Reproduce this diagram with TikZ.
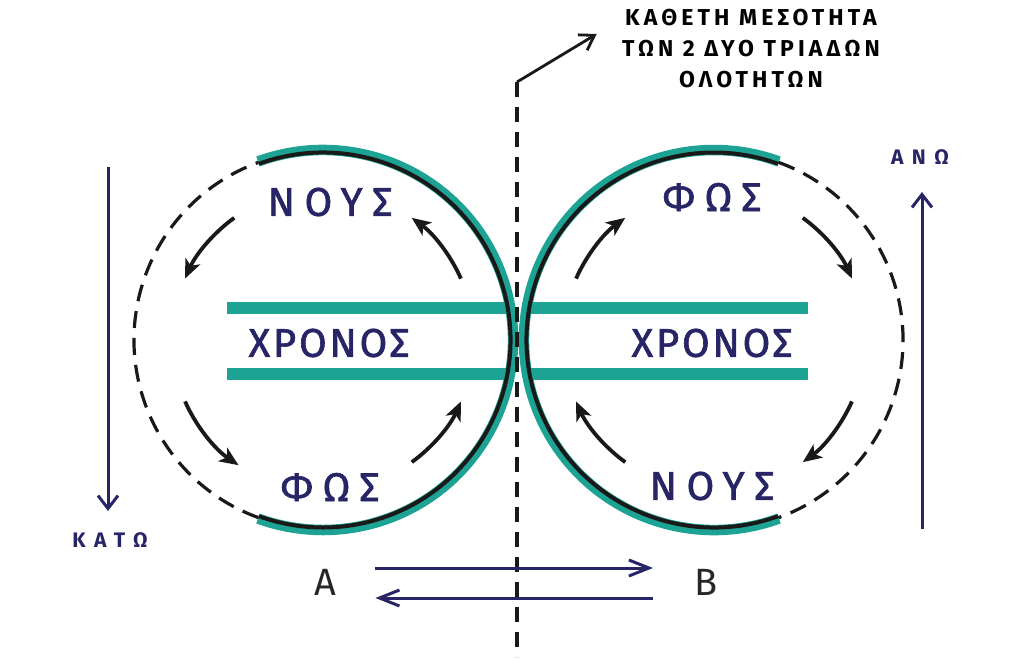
\documentclass[tikz,border=0pt]{standalone}
\usepackage{fontspec}
\setmainfont{Fira Sans}
\newfontfamily\grkwide[LetterSpace=24, FakeBold=1.6]{Fira Sans}
\newfontfamily\grktight[LetterSpace=7, FakeBold=1.6]{Fira Sans}
\newfontfamily\grktop[LetterSpace=18]{Fira Sans}
\newfontfamily\grktag[LetterSpace=40]{Fira Sans}
\usetikzlibrary{arrows.meta, positioning}
\definecolor{ringteal}{RGB}{29,163,148}
\definecolor{inkblue}{RGB}{40,37,102}

\begin{document}
\begin{tikzpicture}[x=1pt, y=-1pt, >={Stealth[]},
  ring/.style={ringteal, line width=10.5pt},
  core/.style={black!90, line width=4pt},
  band/.style={ringteal, line width=12.5pt},
  gap/.style={black!90, line width=3.2pt, dash pattern=on 17pt off 10pt},
  turn/.style={black!90, line width=3.8pt, -{Stealth[length=19pt, width=16pt, inset=5pt]}},
  way/.style={inkblue, line width=3pt, -{Straight Barb[length=13pt, width=20pt]}},
  pointer/.style={black!90, line width=2.8pt, -{Straight Barb[length=14pt, width=18pt]}},
  word/.style={inkblue, font=\grkwide\fontsize{40}{40}\selectfont},
  longword/.style={inkblue, font=\grktight\fontsize{40}{40}\selectfont},
  tag/.style={inkblue, font=\grktag\bfseries\fontsize{21}{21}\selectfont},
  letter/.style={black!85, font=\fontsize{38}{38}\selectfont}]
  \useasboundingbox (0,0) rectangle (1025,665);
  % centres of the two wholes
  \coordinate (left) at (323,340);
  \coordinate (right) at (714,340);
  % time bands
  \draw[band] (227,308) -- (510,308);
  \draw[band] (227,374) -- (510,374);
  \draw[band] (524,308) -- (808,308);
  \draw[band] (524,374) -- (808,374);
  % the two rings
  \draw[ring] (left) ++(-110:190) arc[start angle=-110, end angle=110, radius=190];
  \draw[core] (left) ++(-110:187.5) arc[start angle=-110, end angle=110, radius=187.5];
  \draw[gap] (left) ++(110:189) arc[start angle=110, end angle=250, radius=189];
  \draw[ring] (right) ++(70:190) arc[start angle=70, end angle=290, radius=190];
  \draw[core] (right) ++(70:187.5) arc[start angle=70, end angle=290, radius=187.5];
  \draw[gap] (right) ++(-70:189) arc[start angle=-70, end angle=70, radius=189];
  % turning arrows
  \foreach \s/\e in {-24/-54, -126/-156, 156/124, 54/24}
    \draw[turn] (left) ++(\s:151) arc[start angle=\s, end angle=\e, radius=151];
  \foreach \s/\e in {-156/-126, -54/-24, 24/54, 126/156}
    \draw[turn] (right) ++(\s:151) arc[start angle=\s, end angle=\e, radius=151];
  % words
  \node[word] (nousL) at (330,202) {ΝΟΥΣ};
  \node[longword] (chronosL) at (329,343) {ΧΡΟΝΟΣ};
  \node[word] (phosL) at (330,487) {ΦΩΣ};
  \node[word] (phosR) at (712,197) {ΦΩΣ};
  \node[longword] (chronosR) at (712,343) {ΧΡΟΝΟΣ};
  \node[word] (nousR) at (712,486) {ΝΟΥΣ};
  % middle line and its caption
  \coordinate (vtop) at (517,82);
  \coordinate (vbot) at (517,657);
  \draw[gap, dash pattern=on 15pt off 10pt] (vtop) -- (vbot);
  \node[align=center, font=\grktop\bfseries\fontsize{23}{31}\selectfont] (mesotes) at (751,49)
    {ΚΑΘΕΤΗ ΜΕΣΟΤΗΤΑ\\ΤΩΝ 2 ΔΥΟ ΤΡΙΑΔΩΝ\\ΟΛΟΤΗΤΩΝ};
  \draw[pointer] (vtop) -- ([shift={(-22,-15)}]mesotes.west);
  % up and down
  \node[tag] (ano) at (920,157) {ΑΝΩ};
  \node[tag] (kato) at (110,540) {ΚΑΤΩ};
  \draw[way] ([shift={(-2,-362)}]kato.north) -- ([shift={(-2,-18)}]kato.north);
  \draw[way] ([shift={(2,361)}]ano.south) -- ([shift={(2,24)}]ano.south);
  % A and B
  \node[letter] (alpha) at (325,582) {Α};
  \node[letter] (beta) at (706,582) {Β};
  \draw[way, -{Straight Barb[length=20pt, width=16pt]}] ([shift={(36,-14)}]alpha.east) -- ([shift={(-38,-14)}]beta.west);
  \draw[way, -{Straight Barb[length=20pt, width=16pt]}] ([shift={(-38,16)}]beta.west) -- ([shift={(36,16)}]alpha.east);
\end{tikzpicture}
\end{document}
